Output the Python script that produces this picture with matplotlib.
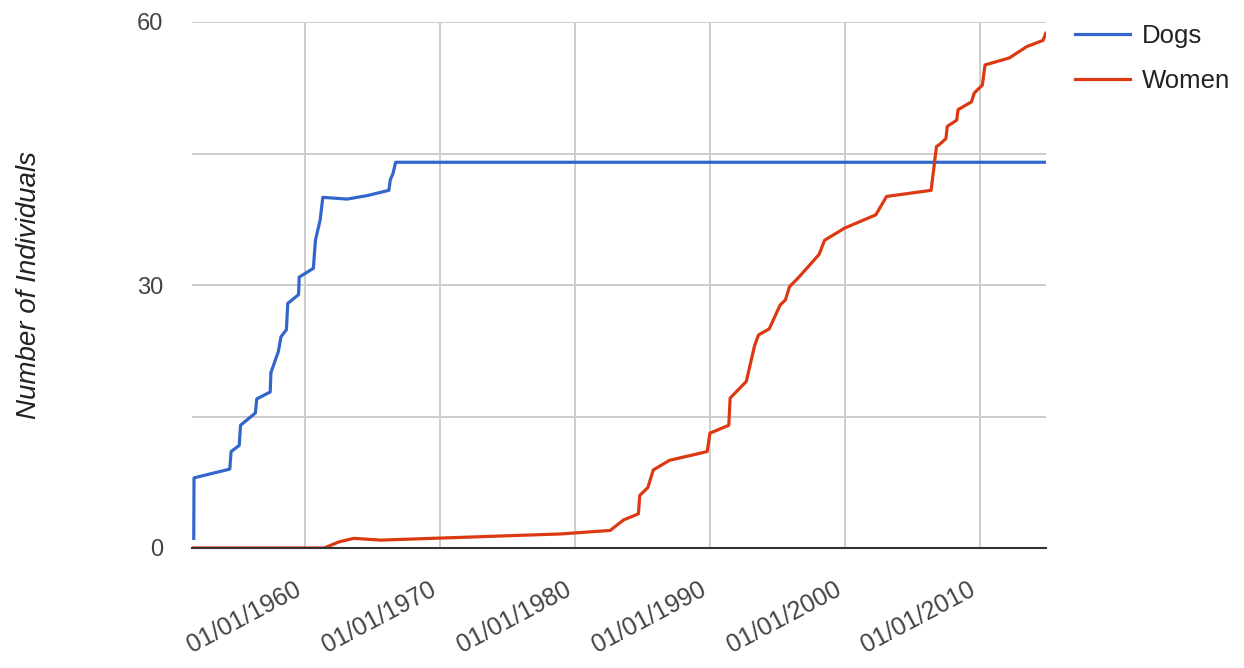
import numpy as np
import matplotlib
matplotlib.use("Agg")
import matplotlib.pyplot as plt

plt.rcParams['font.family'] = ['Liberation Sans', 'DejaVu Sans']

# cumulative counts, x in decimal years
dogs_year = [1951.73, 1951.75, 1954.4, 1954.5, 1955.1, 1955.2, 1956.3, 1956.4,
             1957.4, 1957.45, 1958.0, 1958.2, 1958.6, 1958.7, 1959.5, 1959.55,
             1960.6, 1960.75, 1961.1, 1961.3, 1963.1, 1964.6, 1966.2, 1966.3,
             1966.5, 1966.7, 2015.0]
dogs_n = [1.1, 8, 9, 11, 11.7, 14, 15.4, 17, 17.8, 20, 22.4, 24.1, 24.9, 27.9,
          28.9, 30.9, 31.9, 35.1, 37.4, 40, 39.8, 40.2, 40.8, 42, 42.7, 44, 44]

women_year = [1951.6, 1961.4, 1962.5, 1963.6, 1965.6, 1978.9, 1982.6, 1983.6,
              1984.7, 1984.8, 1985.4, 1985.8, 1987.0, 1989.8, 1990.0, 1991.4,
              1991.5, 1992.7, 1993.3, 1993.6, 1994.4, 1995.2, 1995.6, 1995.9,
              1996.6, 1997.7, 1998.1, 1998.5, 2000.0, 2002.3, 2003.1, 2006.4,
              2006.8, 2007.0, 2007.5, 2007.6, 2008.3, 2008.4, 2009.4, 2009.6,
              2010.2, 2010.4, 2012.2, 2013.5, 2014.7, 2014.9]
women_n = [0, 0, 0.7, 1.1, 0.9, 1.6, 2.0, 3.2, 3.9, 6.0, 6.9, 8.9, 10, 11,
           13.1, 14, 17.1, 19, 23, 24.3, 25, 27.7, 28.3, 29.8, 30.9, 32.8,
           33.5, 35.1, 36.5, 38, 40.1, 40.8, 45.8, 46, 46.7, 48.1, 48.8, 50,
           50.9, 51.9, 52.8, 55.1, 55.9, 57.2, 57.9, 58.7]

decades = [1960, 1970, 1980, 1990, 2000, 2010]
decade_labels = ["01/01/%d" % d for d in decades]

fig = plt.figure(figsize=(12.44, 6.68), dpi=100)
ax = fig.add_axes([192/1244, 1-548/668, (1046-192)/1244, (548-22)/668])

ax.plot(dogs_year, dogs_n, color="#3366cc", lw=2.3, label="Dogs",
        solid_joinstyle="round", zorder=3)
ax.plot(women_year, women_n, color="#dc3912", lw=2.3, label="Women",
        solid_joinstyle="round", zorder=3)

ax.set_xlim(1951.6, 2014.92)
ax.set_ylim(0, 60)

ax.set_yticks([0, 15, 30, 45, 60])
ax.set_yticklabels(["0", "", "30", "", "60"], fontsize=17)
ax.set_xticks(decades)
ax.set_xticklabels(decade_labels, rotation=28, ha="right", va="top",
                   fontsize=18)

ax.grid(True, color="#cccccc", lw=1.4, zorder=0)
ax.tick_params(length=0, labelcolor="#444444")
ax.tick_params(axis="y", pad=21)
ax.tick_params(axis="x", pad=21)

for s in ["top", "right", "left"]:
    ax.spines[s].set_visible(False)
ax.spines["bottom"].set_color("#333333")
ax.spines["bottom"].set_linewidth(1.5)
ax.spines["bottom"].set_zorder(4)

ax.set_ylabel("Number of Individuals", fontsize=20, style="italic",
              color="#222222")
ax.yaxis.set_label_coords((42-192)/854, 0.5)

fig.legend(loc="upper left", bbox_to_anchor=(1075/1244, 1-24/668),
           frameon=False, fontsize=18.5, handlelength=2.14, handletextpad=0.47,
           labelspacing=0.8, borderpad=0, borderaxespad=0,
           labelcolor="#222222")

fig.savefig("out.png", dpi=100)
